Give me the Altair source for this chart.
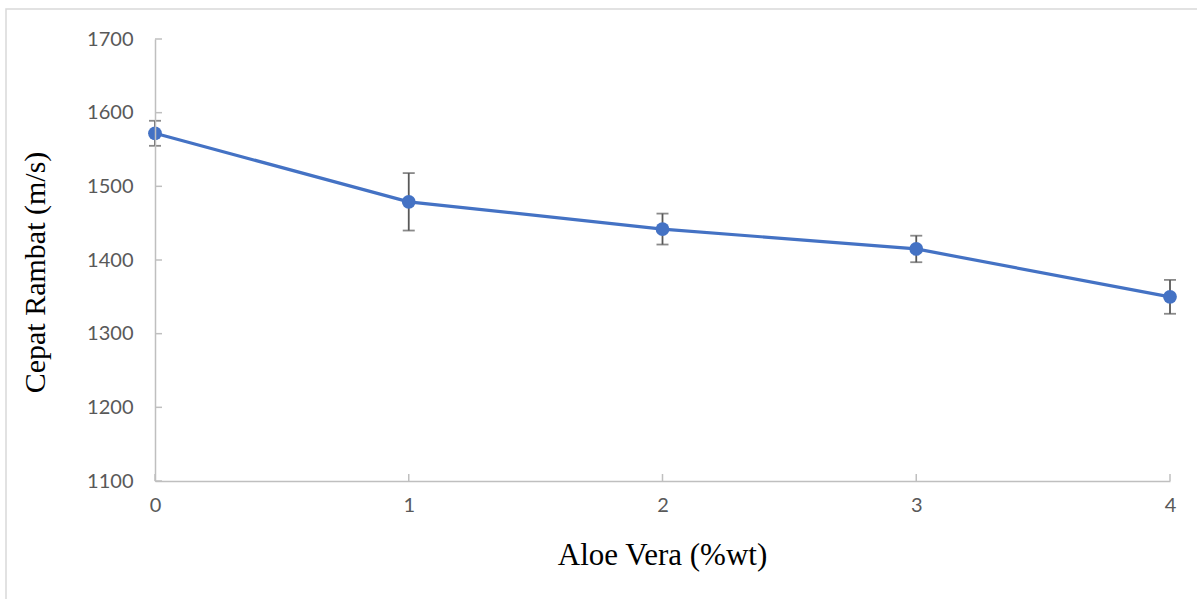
import altair as alt
import pandas as pd

aloe = [0, 1, 2, 3, 4]
speed = [1572, 1479, 1442, 1415, 1350]
err = [17, 39, 21, 18, 23]
y_ticks = [1100, 1200, 1300, 1400, 1500, 1600, 1700]

df = pd.DataFrame({"x": aloe, "y": speed, "lo": [s - e for s, e in zip(speed, err)],
                   "hi": [s + e for s, e in zip(speed, err)]})
yt = pd.DataFrame({"v": y_ticks})
xt = pd.DataFrame({"x": aloe})

W, H = 1015, 442
GRAY = "#bfbfbf"

xs = alt.Scale(domain=[0, 4], nice=False, zero=False)
ys = alt.Scale(domain=[1100, 1700], nice=False, zero=False)

xaxis = alt.Axis(values=aloe, format="d", title="Aloe Vera (%wt)", tickSize=0,
                 labelPadding=14, domainColor=GRAY, domainWidth=1.5, zindex=1,
                 labelFlush=False,
                 labelFont="Lato", labelFontSize=20, labelColor="#595959",
                 titleFont="Liberation Serif", titleFontSize=31, titleFontWeight="normal",
                 titleColor="#000000", titleX=507, titleY=74, titleBaseline="middle", grid=False)
yaxis = alt.Axis(values=y_ticks, format="d", title="Cepat Rambat (m/s)", tickSize=0,
                 labelPadding=22, domainColor=GRAY, domainWidth=1.5, zindex=1,
                 labelFlush=False,
                 labelFont="Lato", labelFontSize=20, labelColor="#595959",
                 titleFont="Liberation Serif", titleFontSize=30, titleFontWeight="normal",
                 titleColor="#000000", titleX=-120, titleY=233, titleBaseline="middle",
                 titleAngle=-90, grid=False)

border = alt.Chart(pd.DataFrame({"a": [0]})).mark_rect(
    fillOpacity=0, stroke="#d9d9d9", strokeWidth=1.5).encode(
    x=alt.value(-149), x2=alt.value(W + 40), y=alt.value(-30), y2=alt.value(H + 140))

ytick = alt.Chart(yt).mark_rule(color=GRAY, strokeWidth=1.5).encode(
    y=alt.Y("v:Q", scale=ys, axis=yaxis), x=alt.value(0), x2=alt.value(7))
xtick = alt.Chart(xt).mark_rule(color=GRAY, strokeWidth=1.5).encode(
    x=alt.X("x:Q", scale=xs, axis=xaxis), y=alt.value(H), y2=alt.value(H - 7))

bars = alt.Chart(df).mark_rule(color="#595959", strokeWidth=1.8).encode(
    x=alt.X("x:Q", scale=xs), y=alt.Y("lo:Q", scale=ys), y2="hi:Q")
caps_hi = alt.Chart(df).mark_tick(color="#595959", orient="horizontal", size=12, thickness=1.8).encode(
    x=alt.X("x:Q", scale=xs), y=alt.Y("hi:Q", scale=ys))
caps_lo = alt.Chart(df).mark_tick(color="#595959", orient="horizontal", size=12, thickness=1.8).encode(
    x=alt.X("x:Q", scale=xs), y=alt.Y("lo:Q", scale=ys))
line = alt.Chart(df).mark_line(color="#4472C4", strokeWidth=3.2).encode(
    x=alt.X("x:Q", scale=xs), y=alt.Y("y:Q", scale=ys))
pts = alt.Chart(df).mark_circle(color="#4472C4", size=190, opacity=1).encode(
    x=alt.X("x:Q", scale=xs), y=alt.Y("y:Q", scale=ys))

chart = alt.layer(border, ytick, xtick, bars, caps_hi, caps_lo, line, pts).properties(
    width=W, height=H,
    background="white",
    autosize=alt.AutoSizeParams(type="none"),
    padding={"left": 155, "top": 39, "right": 27, "bottom": 118},
).configure_view(strokeWidth=0)

chart.save("out.html", embed_options={"renderer": "svg", "actions": False})
